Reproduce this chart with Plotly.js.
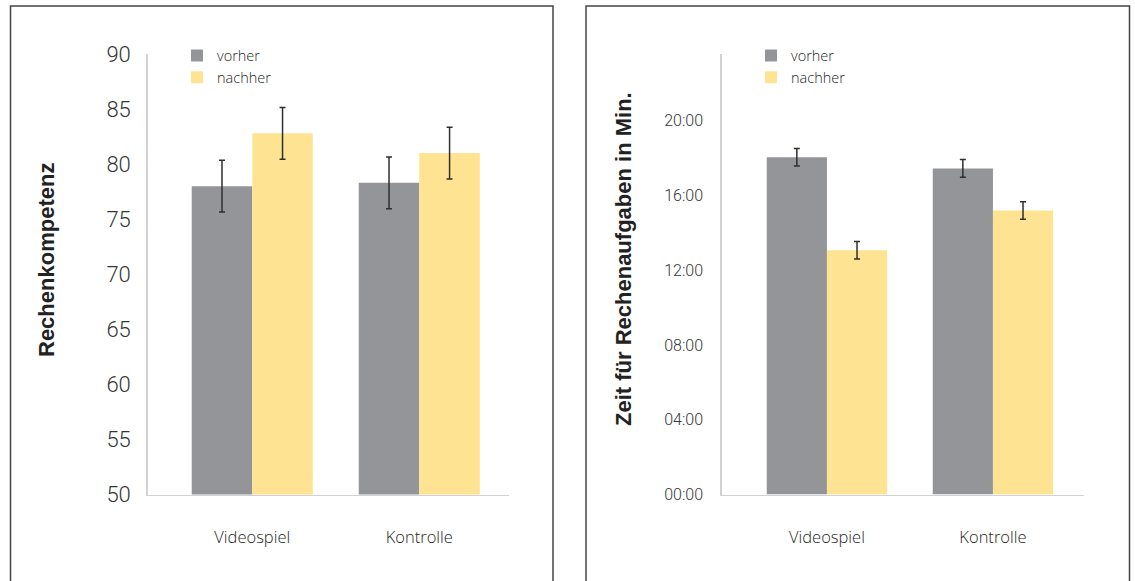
<!DOCTYPE html>
<html>
<head>
<meta charset="utf-8">
<script src="https://cdn.plot.ly/plotly-3.0.1.min.js"></script>
<style>
  html, body { margin: 0; padding: 0; background: #ffffff; }
  #chart { width: 1135px; height: 581px; }
</style>
</head>
<body>
<div id="chart"></div>
<script>
// ---- data ----
const categories = ['Videospiel', 'Kontrolle'];
const seriesNames = ['vorher', 'nachher'];

// Rechenkompetenz (left chart)
const kompetenzVorher = [78.0, 78.3];
const kompetenzNachher = [82.8, 81.0];
const kompetenzFehlerVorher = [2.35, 2.35];
const kompetenzFehlerNachher = [2.35, 2.35];
const kompetenzTicks = [50, 55, 60, 65, 70, 75, 80, 85, 90];

// Zeit für Rechenaufgaben in Min. (right chart), values in minutes
const zeitVorher = [18.05, 17.45];
const zeitNachher = [13.07, 15.2];
const zeitFehlerVorher = [0.47, 0.47];
const zeitFehlerNachher = [0.47, 0.47];
const zeitTickVals = [0, 4, 8, 12, 16, 20];
const zeitTickText = ['00:00', '04:00', '08:00', '12:00', '16:00', '20:00'];

// ---- style ----
const GRAY = '#939598';
const YELLOW = '#fee492';
const TEXT = '#363636';
const AXIS = '#d2d2d2';
const W = 1135, H = 581;
const px = v => v / W;
const py = v => (H - v) / H;
const numFont = {family: 'Roboto, "Liberation Sans", Arial, sans-serif', size: 15, color: TEXT, weight: 300};
const wordFont = {family: '"Open Sans", Roboto, "Liberation Sans", Arial, sans-serif', size: 15, color: '#262626', weight: 300};

function errBar(arr) {
  return {type: 'data', array: arr, visible: true, color: '#2e2e2e', thickness: 1.5, width: 3};
}

const traces = [
  {type: 'bar', name: seriesNames[0], x: categories, y: kompetenzVorher, marker: {color: GRAY},
   error_y: errBar(kompetenzFehlerVorher), xaxis: 'x', yaxis: 'y', legend: 'legend'},
  {type: 'bar', name: seriesNames[1], x: categories, y: kompetenzNachher, marker: {color: YELLOW},
   error_y: errBar(kompetenzFehlerNachher), xaxis: 'x', yaxis: 'y', legend: 'legend'},
  {type: 'bar', name: seriesNames[0], x: categories, y: zeitVorher, marker: {color: GRAY},
   error_y: errBar(zeitFehlerVorher), xaxis: 'x2', yaxis: 'y2', legend: 'legend2'},
  {type: 'bar', name: seriesNames[1], x: categories, y: zeitNachher, marker: {color: YELLOW},
   error_y: errBar(zeitFehlerNachher), xaxis: 'x2', yaxis: 'y2', legend: 'legend2'}
];

const yDomain = [py(494.5), py(54)];

const layout = {
  width: W, height: H,
  margin: {l: 0, r: 0, t: 0, b: 0},
  paper_bgcolor: '#ffffff', plot_bgcolor: 'rgba(0,0,0,0)',
  barmode: 'group', bargap: 0.275, bargroupgap: 0,
  showlegend: true,
  font: {family: 'Roboto, "Liberation Sans", Arial, sans-serif', color: TEXT},
  xaxis: {
    domain: [px(147.7), px(509)], range: [-0.626, 1.537], type: 'category',
    showline: true, linecolor: AXIS, linewidth: 1.5, ticks: '', showgrid: false, zeroline: false,
    tickfont: {...wordFont, size: 16.5}, ticklabelstandoff: 27, fixedrange: true
  },
  yaxis: {
    domain: yDomain, range: [50, 90], tickvals: kompetenzTicks,
    showline: true, linecolor: AXIS, linewidth: 1.5, ticks: '', showgrid: false, zeroline: false,
    tickfont: {...numFont, size: 22}, ticklabelstandoff: 11, fixedrange: true
  },
  xaxis2: {
    domain: [px(721.7), px(1084.4)], range: [-0.634, 1.551], type: 'category', anchor: 'y2',
    showline: true, linecolor: AXIS, linewidth: 1.5, ticks: '', showgrid: false, zeroline: false,
    tickfont: {...wordFont, size: 16.5}, ticklabelstandoff: 27, fixedrange: true
  },
  yaxis2: {
    domain: yDomain, range: [0, 23.57], anchor: 'x2', tickvals: zeitTickVals, ticktext: zeitTickText,
    showline: true, linecolor: AXIS, linewidth: 1.5, ticks: '', showgrid: false, zeroline: false,
    tickfont: {...numFont, size: 16}, ticklabelstandoff: 14, fixedrange: true
  },
  legend: {
    x: px(177), y: py(39.5), xanchor: 'left', yanchor: 'top', bgcolor: 'rgba(0,0,0,0)',
    font: {...wordFont, size: 14.5}, traceorder: 'normal', itemwidth: 30, tracegroupgap: 0
  },
  legend2: {
    x: px(751), y: py(39.5), xanchor: 'left', yanchor: 'top', bgcolor: 'rgba(0,0,0,0)',
    font: {...wordFont, size: 14.5}, traceorder: 'normal', itemwidth: 30, tracegroupgap: 0
  },
  shapes: [
    {type: 'rect', xref: 'paper', yref: 'paper', x0: px(10.5), x1: px(553), y0: py(590), y1: py(6),
     line: {color: '#444444', width: 1.5}, fillcolor: 'rgba(0,0,0,0)', layer: 'below'},
    {type: 'rect', xref: 'paper', yref: 'paper', x0: px(586), x1: px(1129.5), y0: py(590), y1: py(6),
     line: {color: '#444444', width: 1.5}, fillcolor: 'rgba(0,0,0,0)', layer: 'below'}
  ],
  annotations: [
    {text: 'Rechenkompetenz', xref: 'paper', yref: 'paper', x: px(46), y: py(260),
     xanchor: 'center', yanchor: 'middle', textangle: -90, showarrow: false,
     font: {family: '"Liberation Sans", Arial, sans-serif', size: 22, color: '#222222', weight: 'bold'}},
    {text: 'Zeit für Rechenaufgaben in Min.', xref: 'paper', yref: 'paper', x: px(623), y: py(259),
     xanchor: 'center', yanchor: 'middle', textangle: -90, showarrow: false,
     font: {family: '"Liberation Sans", Arial, sans-serif', size: 22, color: '#222222', weight: 'bold'}}
  ]
};

Plotly.newPlot('chart', traces, layout, {displayModeBar: false, staticPlot: true});
</script>
</body>
</html>
